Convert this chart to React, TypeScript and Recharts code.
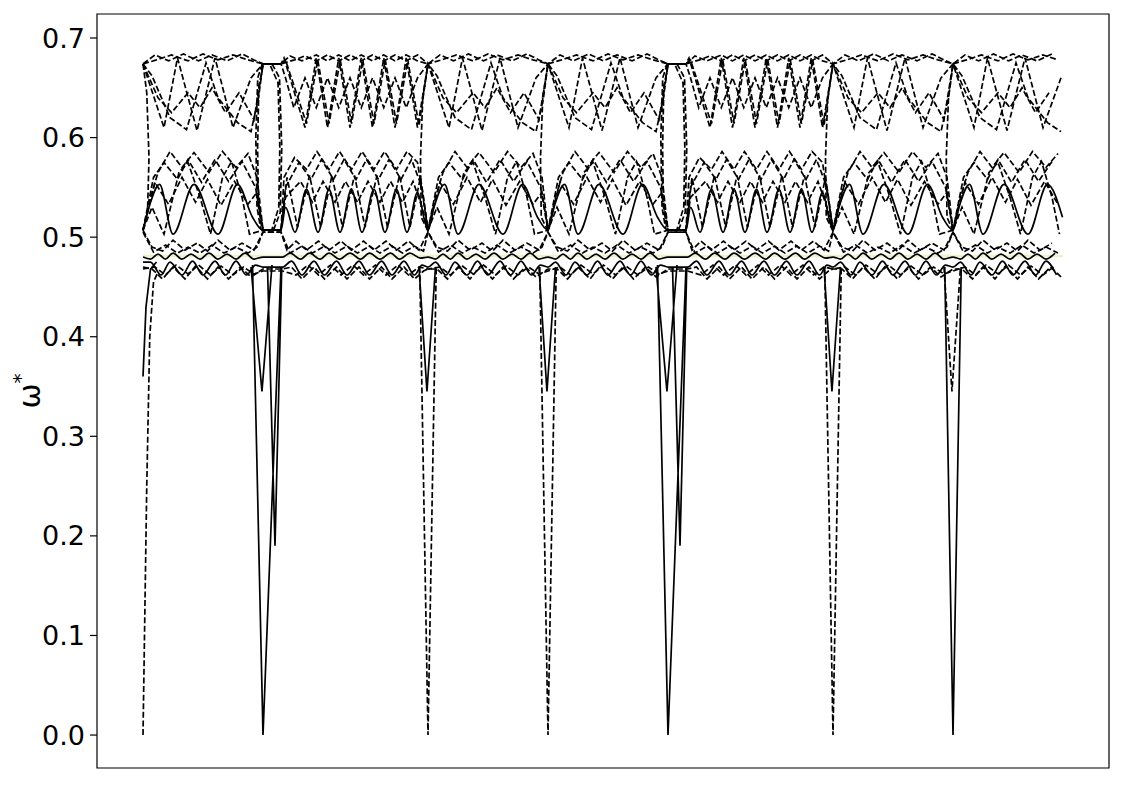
import React from "react";
import { LineChart, Line, XAxis, YAxis, ReferenceArea, Label } from "recharts";

// path coordinate (1 unit = one k-step), high-symmetry nodes along the path
const NODES = [0, 8, 19, 27, 35, 46, 54];
const PATH_END = 61.33;
const SEGMENT_KIND = ["short", "long", "short", "short", "long", "short", "short"];

const X_DOMAIN = [-3.067, 64.4];
const Y_DOMAIN = [-0.0331, 0.7241];
const Y_TICKS = [0, 0.1, 0.2, 0.3, 0.4, 0.5, 0.6, 0.7];

type P = [number, number];

// ---- upper group (0.60 - 0.69) ----
const T1_SHORT: P[] = [[0, 0.674], [0.8, 0.683], [1.7, 0.677], [2.7, 0.684], [3.7, 0.677], [4.6, 0.683], [5.6, 0.677], [6.6, 0.684], [7.4, 0.678], [8, 0.674]];
const T1_LONG: P[] = [[0, 0.674], [1.2, 0.674], [1.8, 0.682], [2.6, 0.677], [3.55, 0.683], [4.3, 0.677], [5.05, 0.683], [5.8, 0.677], [6.55, 0.683], [7.3, 0.677], [8.05, 0.683], [8.8, 0.677], [9.55, 0.683], [10.3, 0.677], [11, 0.674]];
const T2_SHORT: P[] = [[0, 0.674], [0.9, 0.678], [1.9, 0.683], [3.0, 0.677], [4.0, 0.684], [5.0, 0.678], [6.0, 0.683], [7.0, 0.678], [8, 0.674]];
const T2_LONG: P[] = [[0, 0.674], [1.2, 0.674], [2.1, 0.678], [2.8, 0.682], [3.55, 0.677], [4.3, 0.683], [5.05, 0.677], [5.8, 0.683], [6.55, 0.677], [7.3, 0.683], [8.05, 0.677], [8.8, 0.683], [9.55, 0.677], [10.3, 0.683], [11, 0.674]];
const T3_SHORT: P[] = [[0, 0.674], [1.4, 0.61], [2.3, 0.68], [3.6, 0.607], [4.8, 0.68], [6.0, 0.61], [7.2, 0.66], [8, 0.674]];
const T3_LONG: P[] = [[0, 0.674], [1.2, 0.674], [1.4, 0.68], [2.8, 0.61], [3.55, 0.68], [4.3, 0.61], [5.05, 0.68], [5.8, 0.61], [6.55, 0.68], [7.3, 0.61], [8.05, 0.68], [8.8, 0.61], [9.55, 0.68], [10.3, 0.61], [11, 0.674]];
const T4_SHORT: P[] = [[0, 0.674], [0.6, 0.662], [1.8, 0.62], [2.9, 0.608], [4.2, 0.675], [5.0, 0.64], [6.3, 0.615], [7.2, 0.606], [7.7, 0.64], [8, 0.674]];
const T4_LONG: P[] = [[0, 0.674], [1.2, 0.674], [1.5, 0.66], [2.05, 0.63], [2.8, 0.66], [3.55, 0.63], [4.3, 0.66], [5.05, 0.63], [5.8, 0.66], [6.55, 0.63], [7.3, 0.66], [8.05, 0.63], [8.8, 0.66], [9.55, 0.63], [10.3, 0.66], [11, 0.674]];
const T5_SHORT: P[] = [[0, 0.674], [1.0, 0.64], [1.9, 0.625], [3.0, 0.645], [3.8, 0.63], [4.6, 0.65], [5.5, 0.625], [6.4, 0.645], [7.4, 0.618], [8, 0.674]];
const T5_LONG: P[] = [[0, 0.674], [1.2, 0.674], [1.5, 0.678], [2.9, 0.614], [3.65, 0.678], [4.4, 0.614], [5.15, 0.678], [5.9, 0.614], [6.65, 0.678], [7.4, 0.614], [8.15, 0.678], [8.9, 0.614], [9.65, 0.678], [10.4, 0.612], [11, 0.674]];

// ---- middle group (0.50 - 0.59) ----
const M1_SHORT: P[] = [[0, 0.507], [0.5, 0.54], [1.0, 0.565], [1.8, 0.586], [2.6, 0.57], [3.4, 0.585], [4.4, 0.565], [5.3, 0.586], [6.2, 0.57], [7.0, 0.584], [7.6, 0.56], [8, 0.507]];
const M1_LONG: P[] = [[0, 0.507], [1.2, 0.507], [1.4, 0.56], [2.1, 0.58], [2.9, 0.568], [3.6, 0.586], [4.4, 0.568], [5.1, 0.586], [5.9, 0.568], [6.6, 0.586], [7.4, 0.568], [8.1, 0.586], [8.9, 0.568], [9.6, 0.586], [10.3, 0.575], [11, 0.507]];
const M2_SHORT: P[] = [[0, 0.507], [0.7, 0.56], [1.4, 0.575], [2.3, 0.558], [3.0, 0.578], [3.9, 0.555], [4.8, 0.578], [5.7, 0.556], [6.6, 0.576], [7.5, 0.55], [8, 0.507]];
const M2_LONG: P[] = [[0, 0.507], [1.2, 0.507], [1.5, 0.55], [2.4, 0.575], [3.2, 0.558], [3.9, 0.578], [4.7, 0.558], [5.4, 0.578], [6.2, 0.558], [6.9, 0.578], [7.7, 0.558], [8.4, 0.578], [9.2, 0.558], [9.9, 0.578], [10.6, 0.55], [11, 0.507]];
const M3_SHORT: P[] = [[0, 0.507], [0.4, 0.53], [1.1, 0.553], [2.0, 0.503], [3.4, 0.553], [5.0, 0.503], [6.3, 0.553], [7.3, 0.52], [8, 0.507]];
const M3_LONG: P[] = [[0, 0.507], [1.2, 0.507], [1.5, 0.53], [2.13, 0.505], [2.9, 0.548], [3.67, 0.505], [4.4, 0.548], [5.13, 0.505], [5.9, 0.548], [6.6, 0.505], [7.4, 0.548], [8.13, 0.505], [8.9, 0.548], [9.6, 0.505], [10.3, 0.545], [10.8, 0.515], [11, 0.507]];
const M4_SHORT: P[] = [[0, 0.507], [0.6, 0.53], [1.4, 0.503], [2.4, 0.565], [3.0, 0.575], [3.8, 0.54], [4.5, 0.503], [5.3, 0.56], [5.9, 0.576], [6.6, 0.54], [7.1, 0.503], [8, 0.507]];
const M4_LONG: P[] = [[0, 0.507], [1.2, 0.507], [1.6, 0.56], [2.3, 0.51], [3.1, 0.562], [3.85, 0.51], [4.6, 0.562], [5.3, 0.51], [6.1, 0.562], [6.8, 0.51], [7.6, 0.562], [8.3, 0.51], [9.1, 0.562], [9.8, 0.51], [10.5, 0.56], [11, 0.507]];
const M5_SHORT: P[] = [[0, 0.507], [0.8, 0.555], [1.7, 0.533], [2.6, 0.56], [3.5, 0.535], [4.3, 0.558], [5.2, 0.532], [6.1, 0.556], [7.0, 0.533], [7.6, 0.545], [8, 0.507]];
const M5_LONG: P[] = [[0, 0.507], [1.2, 0.507], [1.5, 0.54], [2.5, 0.556], [3.3, 0.535], [4.0, 0.556], [4.8, 0.535], [5.5, 0.556], [6.3, 0.535], [7.0, 0.556], [7.8, 0.535], [8.5, 0.556], [9.3, 0.535], [10.0, 0.556], [10.6, 0.53], [11, 0.507]];

// ---- lower group (0.455 - 0.50) ----
const L1_SHORT: P[] = [[0, 0.507], [0.6, 0.49], [1.3, 0.486], [2.0, 0.497], [2.8, 0.487], [3.6, 0.494], [4.3, 0.486], [5.0, 0.497], [5.8, 0.487], [6.6, 0.494], [7.4, 0.487], [8, 0.505]];
const L1_LONG: P[] = [[0, 0.505], [1.2, 0.505], [1.6, 0.487], [2.2, 0.496], [2.9, 0.487], [3.7, 0.496], [4.4, 0.487], [5.2, 0.496], [5.9, 0.487], [6.7, 0.496], [7.4, 0.487], [8.2, 0.496], [8.9, 0.487], [9.7, 0.496], [10.4, 0.487], [11, 0.505]];
const L2_SHORT: P[] = [[0, 0.505], [0.7, 0.485], [1.5, 0.492], [2.3, 0.484], [3.0, 0.49], [3.8, 0.484], [4.6, 0.492], [5.4, 0.484], [6.2, 0.49], [7.0, 0.484], [7.6, 0.49], [8, 0.505]];
const L2_LONG: P[] = [[0, 0.505], [1.2, 0.505], [1.8, 0.484], [2.6, 0.491], [3.3, 0.484], [4.1, 0.491], [4.8, 0.484], [5.6, 0.491], [6.3, 0.484], [7.1, 0.491], [7.8, 0.484], [8.6, 0.491], [9.3, 0.484], [10.1, 0.491], [10.7, 0.486], [11, 0.505]];
const L3_SHORT: P[] = [[0, 0.48], [0.5, 0.478], [1.0, 0.483], [1.5, 0.478], [2.0, 0.484], [2.6, 0.478], [3.2, 0.483], [3.8, 0.478], [4.4, 0.484], [5.0, 0.478], [5.6, 0.483], [6.2, 0.478], [6.8, 0.484], [7.4, 0.478], [8, 0.48]];
const L3_LONG: P[] = [[0, 0.48], [1.3, 0.48], [1.8, 0.484], [2.5, 0.478], [3.1, 0.484], [3.8, 0.478], [4.4, 0.484], [5.1, 0.478], [5.8, 0.484], [6.5, 0.478], [7.1, 0.484], [7.8, 0.478], [8.5, 0.484], [9.1, 0.478], [9.8, 0.484], [10.5, 0.479], [11, 0.48]];
const L4_SHORT: P[] = [[0, 0.475], [0.5, 0.475], [1.2, 0.462], [1.8, 0.475], [2.6, 0.462], [3.3, 0.476], [4.0, 0.462], [4.8, 0.476], [5.5, 0.462], [6.2, 0.476], [6.9, 0.462], [7.5, 0.472], [8, 0.47]];
const L4_LONG: P[] = [[0, 0.47], [1.3, 0.47], [1.9, 0.476], [2.6, 0.462], [3.4, 0.476], [4.1, 0.462], [4.9, 0.476], [5.6, 0.462], [6.4, 0.476], [7.1, 0.462], [7.9, 0.476], [8.6, 0.462], [9.4, 0.476], [10.1, 0.462], [10.6, 0.472], [11, 0.47]];
const L5_SHORT: P[] = [[0, 0.47], [0.6, 0.468], [1.3, 0.458], [2.0, 0.47], [2.8, 0.458], [3.5, 0.471], [4.3, 0.458], [5.0, 0.47], [5.7, 0.458], [6.5, 0.47], [7.2, 0.46], [8, 0.468]];
const L5_LONG: P[] = [[0, 0.468], [1.3, 0.468], [1.9, 0.47], [2.6, 0.458], [3.4, 0.47], [4.1, 0.458], [4.9, 0.47], [5.6, 0.458], [6.4, 0.47], [7.1, 0.458], [7.9, 0.47], [8.6, 0.458], [9.4, 0.47], [10.1, 0.458], [10.7, 0.466], [11, 0.468]];
const L6_SHORT: P[] = [[0, 0.468], [0.8, 0.47], [1.5, 0.462], [2.2, 0.472], [3.0, 0.463], [3.7, 0.472], [4.5, 0.462], [5.2, 0.471], [6.0, 0.462], [6.7, 0.47], [7.4, 0.463], [8, 0.466]];
const L6_LONG: P[] = [[0, 0.466], [1.3, 0.466], [2.2, 0.462], [3.0, 0.472], [3.7, 0.462], [4.5, 0.472], [5.2, 0.462], [6.0, 0.472], [6.7, 0.462], [7.5, 0.472], [8.2, 0.462], [9.0, 0.472], [9.7, 0.462], [10.4, 0.47], [11, 0.468]];

const BANDS = [
  { id: "t1", short: T1_SHORT, long: T1_LONG, dashed: true },
  { id: "t2", short: T2_SHORT, long: T2_LONG, dashed: true },
  { id: "t3", short: T3_SHORT, long: T3_LONG, dashed: true },
  { id: "t4", short: T4_SHORT, long: T4_LONG, dashed: true },
  { id: "t5", short: T5_SHORT, long: T5_LONG, dashed: true },
  { id: "m1", short: M1_SHORT, long: M1_LONG, dashed: true },
  { id: "m2", short: M2_SHORT, long: M2_LONG, dashed: true },
  { id: "m4", short: M4_SHORT, long: M4_LONG, dashed: true },
  { id: "m5", short: M5_SHORT, long: M5_LONG, dashed: true },
  { id: "l1", short: L1_SHORT, long: L1_LONG, dashed: true },
  { id: "l2", short: L2_SHORT, long: L2_LONG, dashed: true },
  { id: "l5", short: L5_SHORT, long: L5_LONG, dashed: true },
  { id: "l6", short: L6_SHORT, long: L6_LONG, dashed: true },
  { id: "m3", short: M3_SHORT, long: M3_LONG, dashed: false, smooth: true },
  { id: "l3", short: L3_SHORT, long: L3_LONG, dashed: false, smooth: true },
  { id: "l4", short: L4_SHORT, long: L4_LONG, dashed: false, smooth: true },
];

// the narrow loops at the 2nd and 5th nodes
const TUBES: (P | null)[] = [
  [7.95, 0.674], [7.65, 0.66], [7.52, 0.6], [7.6, 0.53], [7.85, 0.508], null,
  [8.0, 0.672], [7.72, 0.65], [7.64, 0.59], [7.7, 0.53], [7.95, 0.507], null,
  [8.6, 0.674], [9.1, 0.66], [9.25, 0.59], [9.15, 0.525], [8.7, 0.507], null,
  [8.5, 0.672], [9.0, 0.655], [9.12, 0.59], [9.05, 0.53], [8.6, 0.508], null,
  [34.95, 0.674], [34.65, 0.66], [34.52, 0.6], [34.6, 0.53], [34.85, 0.508], null,
  [35.0, 0.672], [34.72, 0.65], [34.64, 0.59], [34.7, 0.53], [34.95, 0.507], null,
  [35.6, 0.674], [36.1, 0.66], [36.25, 0.59], [36.15, 0.525], [35.7, 0.507], null,
  [35.5, 0.672], [36.0, 0.655], [36.12, 0.59], [36.05, 0.53], [35.6, 0.508],
];

// steep links between upper and middle groups at the other nodes
const LINKS: (P | null)[] = [
  [0, 0.674], [0.25, 0.645], [0.4, 0.58], [0.3, 0.525], [0, 0.507], null,
  [19, 0.674], [18.65, 0.64], [18.5, 0.58], [18.55, 0.52], [19, 0.506], null,
  [27, 0.674], [26.65, 0.64], [26.5, 0.58], [26.55, 0.52], [27, 0.506], null,
  [46, 0.674], [45.65, 0.64], [45.5, 0.58], [45.55, 0.52], [46, 0.506], null,
  [54, 0.674], [53.7, 0.64], [53.55, 0.58], [53.6, 0.52], [54, 0.506],
];

const SPIKES_DASHED: (P | null)[] = [
  [0, 0], [0.25, 0.25], [0.45, 0.4], [0.7, 0.455], [1.0, 0.465], null,
  [18.45, 0.47], [19, 0], [19.55, 0.47], null,
  [26.45, 0.47], [27, 0], [27.55, 0.47], null,
  [45.45, 0.47], [46, 0], [46.55, 0.47], null,
  [53.4, 0.47], [53.93, 0.345], [54.5, 0.47],
];

const SPIKES_SOLID: (P | null)[] = [
  [0, 0.36], [0.2, 0.43], [0.5, 0.468], [0.9, 0.475], null,
  [7.3, 0.472], [8, 0], [9.2, 0.47], null,
  [7.2, 0.47], [7.93, 0.345], [8.6, 0.472], null,
  [8.3, 0.47], [8.8, 0.19], [9.25, 0.47], null,
  [18.4, 0.47], [18.93, 0.345], [19.5, 0.47], null,
  [26.4, 0.47], [26.93, 0.345], [27.5, 0.47], null,
  [34.3, 0.472], [35, 0], [36.2, 0.47], null,
  [34.2, 0.47], [34.93, 0.345], [35.6, 0.472], null,
  [35.3, 0.47], [35.8, 0.19], [36.25, 0.47], null,
  [45.4, 0.47], [45.93, 0.345], [46.5, 0.47], null,
  [53.45, 0.47], [54, 0], [54.55, 0.47],
];

const FLAT_LEVEL: P[] = [[0, 0.481], [PATH_END, 0.481]];

function buildBand(shortP: P[], longP: P[]) {
  const pts: { x: number; y: number }[] = [];
  NODES.forEach((start, i) => {
    const prof = SEGMENT_KIND[i] === "long" ? longP : shortP;
    prof.forEach(([dx, y], j) => {
      if (i > 0 && j === 0) return;
      const x = start + dx;
      if (x <= PATH_END + 0.05) pts.push({ x, y });
    });
  });
  return pts;
}

function toRows(list: (P | null)[]) {
  let lastX = 0;
  return list.map((p) => {
    if (!p) return { x: lastX, y: null };
    lastX = p[0];
    return { x: p[0], y: p[1] };
  });
}

const DASH = "6 2.6";
const INK = "#000";
const LW = 1.7;

const AxisTitle = (props: any) => {
  const { viewBox } = props;
  const cx = 40;
  const cy = viewBox.y + viewBox.height / 2;
  return (
    <text
      x={cx}
      y={cy}
      transform={`rotate(-90, ${cx}, ${cy})`}
      textAnchor="middle"
      fontFamily="DejaVu Sans"
      fontSize={30}
      fill={INK}
    >
      ω<tspan dy={-13} fontSize={20}>*</tspan>
    </text>
  );
};

export default function App() {
  return (
    <div style={{ position: "absolute", left: 0, top: 0, background: "#fff" }}>
      <LineChart width={1125} height={785} margin={{ top: 14, right: 16, bottom: 17, left: 0 }}>
        <XAxis type="number" dataKey="x" domain={X_DOMAIN} allowDataOverflow hide />
        <YAxis
          type="number"
          domain={Y_DOMAIN}
          allowDataOverflow
          ticks={Y_TICKS}
          width={97}
          tickFormatter={(v: number) => v.toFixed(1)}
          tick={{ fill: INK, fontSize: 27, fontFamily: "DejaVu Sans" }}
          tickSize={7}
          tickMargin={5}
          tickLine={{ stroke: INK, strokeWidth: 1.2 }}
          axisLine={false}
          label={<Label content={AxisTitle} />}
        />
        <ReferenceArea
          x1={X_DOMAIN[0]}
          x2={X_DOMAIN[1]}
          y1={Y_DOMAIN[0]}
          y2={Y_DOMAIN[1]}
          fill="none"
          stroke={INK}
          strokeWidth={1.2}
          fillOpacity={0}
        />
        <Line data={FLAT_LEVEL.map(([x, y]) => ({ x, y }))} dataKey="y" stroke="#eef0c6" strokeWidth={2.4} dot={false} activeDot={false} isAnimationActive={false} />
        {BANDS.map((b) => (
          <Line
            key={b.id}
            data={buildBand(b.short, b.long)}
            dataKey="y"
            type={b.smooth ? "monotone" : "linear"}
            stroke={INK}
            strokeWidth={LW}
            strokeDasharray={b.dashed ? DASH : undefined}
            dot={false}
            activeDot={false}
            isAnimationActive={false}
          />
        ))}
        <Line data={toRows(TUBES)} dataKey="y" stroke={INK} strokeWidth={LW} strokeDasharray={DASH} dot={false} activeDot={false} isAnimationActive={false} />
        <Line data={toRows(LINKS)} dataKey="y" stroke={INK} strokeWidth={LW} strokeDasharray={DASH} dot={false} activeDot={false} isAnimationActive={false} />
        <Line data={toRows(SPIKES_DASHED)} dataKey="y" stroke={INK} strokeWidth={LW} strokeDasharray={DASH} dot={false} activeDot={false} isAnimationActive={false} />
        <Line data={toRows(SPIKES_SOLID)} dataKey="y" stroke={INK} strokeWidth={LW} dot={false} activeDot={false} isAnimationActive={false} />
      </LineChart>
    </div>
  );
}
